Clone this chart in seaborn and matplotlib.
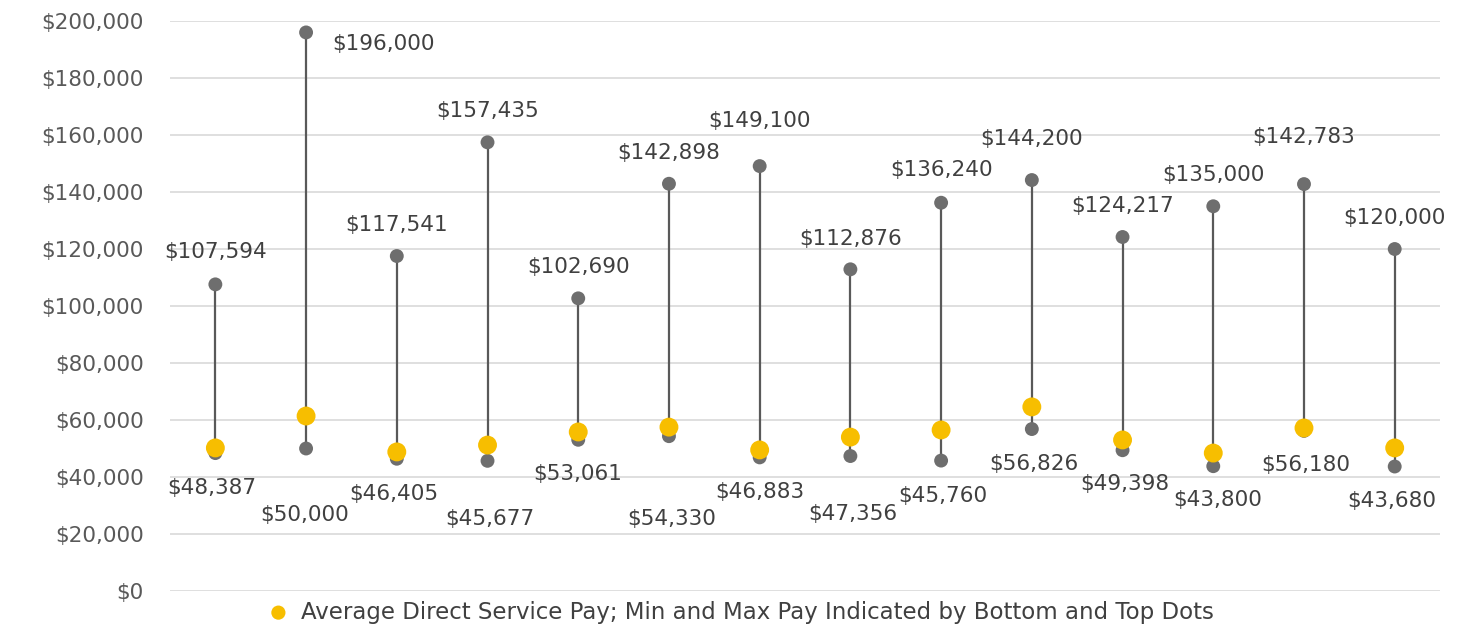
import numpy as np
import pandas as pd
import matplotlib
matplotlib.use("Agg")
import matplotlib.pyplot as plt
import seaborn as sns

# data
programs = [f"P{i}" for i in range(1, 15)]
min_pay = [48387, 50000, 46405, 45677, 53061, 54330, 46883,
           47356, 45760, 56826, 49398, 43800, 56180, 43680]
max_pay = [107594, 196000, 117541, 157435, 102690, 142898, 149100,
           112876, 136240, 144200, 124217, 135000, 142783, 120000]
avg_pay = [50200, 61400, 48800, 51200, 55800, 57500, 49500,
           54000, 56500, 64600, 53000, 48400, 57200, 50200]
legend_label = "Average Direct Service Pay; Min and Max Pay Indicated by Bottom and Top Dots"

# label offsets in pixels (dx, dy) relative to the dot
max_offsets = [(0, 32), (77, -12), (0, 31), (0, 31), (0, 31), (0, 31), (0, 45),
               (0, 30), (0, 33), (0, 41), (0, 31), (0, 31), (0, 47), (0, 31)]
min_offsets = [(-4, -35), (-1, -67), (-3, -35), (2, -58), (-1, -34), (3, -83), (0, -35),
               (2, -58), (2, -35), (2, -35), (2, -34), (4, -34), (2, -34), (-3, -34)]

df = pd.DataFrame({"program": programs, "min": min_pay, "max": max_pay, "avg": avg_pay})
df["x"] = np.arange(len(df))

sns.set_style("white")
plt.rcParams["font.family"] = ["DejaVu Sans"]

fig = plt.figure(figsize=(14.58, 6.24), dpi=100)
ax = fig.add_axes([0.1166, 0.0529, 0.8711, 0.9134])

ax.vlines(df["x"], df["min"], df["max"], color="#595959", lw=1.6, zorder=2)
sns.scatterplot(data=df, x="x", y="min", ax=ax, color="#6e6e6e", s=100,
                edgecolor="none", zorder=3, legend=False)
sns.scatterplot(data=df, x="x", y="max", ax=ax, color="#6e6e6e", s=100,
                edgecolor="none", zorder=3, legend=False)
sns.scatterplot(data=df, x="x", y="avg", ax=ax, color="#F7BE00", s=185,
                edgecolor="none", zorder=4, label=legend_label)

k = 72 / 100
for i, row in df.iterrows():
    dx, dy = max_offsets[i]
    ax.annotate(f"${row['max']:,}", (row["x"], row["max"]), xytext=(dx * k, dy * k),
                textcoords="offset points", ha="center", va="center",
                fontsize=15.5, color="#404040", annotation_clip=False)
    dx, dy = min_offsets[i]
    ax.annotate(f"${row['min']:,}", (row["x"], row["min"]), xytext=(dx * k, dy * k),
                textcoords="offset points", ha="center", va="center",
                fontsize=15.5, color="#404040", annotation_clip=False)

ax.set_xlim(-0.5, len(df) - 0.5)
ax.set_ylim(0, 200000)
ax.set_yticks(np.arange(0, 200001, 20000))
ax.set_yticklabels([f"${v:,}" for v in range(0, 200001, 20000)], fontsize=15.5, color="#595959")
ax.set_xticks([])
ax.set_xlabel("")
ax.set_ylabel("")
ax.tick_params(axis="y", length=0, pad=19)
ax.grid(axis="y", color="#d9d9d9", lw=1.2)
ax.set_axisbelow(True)
sns.despine(ax=ax, left=True, bottom=True)

ax.legend(loc="center", bbox_to_anchor=(0.504, 0.019), bbox_transform=fig.transFigure,
          frameon=False, fontsize=16.5, labelcolor="#404040", handletextpad=0.0,
          markerscale=0.75, borderpad=0)

fig.savefig("out.png", dpi=100)
